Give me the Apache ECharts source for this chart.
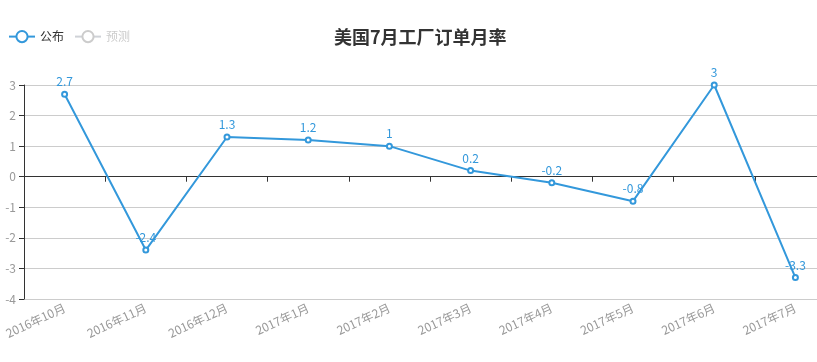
<!DOCTYPE html>
<html><head><meta charset="utf-8">
<script src="https://cdn.jsdelivr.net/npm/echarts@6/dist/echarts.min.js"></script>
<style>html,body{margin:0;padding:0;background:#fff;overflow:hidden;width:817px;height:362px}#c{width:836px;height:362px}</style>
</head><body><div id="c"></div>
<script>
const categories = ['2016年10月','2016年11月','2016年12月','2017年1月','2017年2月','2017年3月','2017年4月','2017年5月','2017年6月','2017年7月'];
const publishedValues = [2.7, -2.4, 1.3, 1.2, 1, 0.2, -0.2, -0.8, 3, -3.3];
const forecastValues = [null, null, null, null, null, null, null, null, null, null];
const yTicks = {min: -4, max: 3, interval: 1};

const chart = echarts.init(document.getElementById('c'));
chart.setOption({
  animation: false,
  textStyle: {fontFamily: '"Noto Sans CJK SC", "Noto Sans", sans-serif'},
  title: {
    text: '美国7月工厂订单月率', left: 329, top: 23,
    textStyle: {fontSize: 18, fontWeight: 'bold', color: '#333'}
  },
  legend: {
    left: 3, top: 25, itemGap: 10, itemWidth: 26, itemHeight: 14,
    data: ['公布', '预测'],
    selected: {'公布': true, '预测': false},
    textStyle: {color: '#333', fontSize: 12},
    inactiveColor: '#ccc'
  },
  grid: {left: 24, top: 85, right: 0, height: 214},
  xAxis: {
    type: 'category', data: categories, boundaryGap: true,
    axisLine: {onZero: true, lineStyle: {color: '#333'}},
    axisTick: {show: true, length: 5, lineStyle: {color: '#333'}},
    axisLabel: {rotate: 25, color: '#999', fontSize: 12, interval: 0, margin: 8},
    splitLine: {show: false}
  },
  yAxis: {
    type: 'value', min: yTicks.min, max: yTicks.max, interval: yTicks.interval,
    axisLine: {show: true, lineStyle: {color: '#333'}},
    axisTick: {show: true, length: 5, lineStyle: {color: '#333'}},
    axisLabel: {color: '#999', fontSize: 12, margin: 8},
    splitLine: {lineStyle: {color: '#ccc'}}
  },
  series: [
    {
      name: '公布', type: 'line', data: publishedValues,
      symbol: 'emptyCircle', symbolSize: 5,
      itemStyle: {color: '#3398DB'},
      lineStyle: {color: '#3398DB', width: 2},
      label: {show: true, position: 'top', color: '#3398DB', fontSize: 12, distance: 3}
    },
    {
      name: '预测', type: 'line', data: forecastValues,
      symbol: 'emptyCircle', symbolSize: 5,
      itemStyle: {color: '#ccc'}
    }
  ]
});
</script></body></html>
